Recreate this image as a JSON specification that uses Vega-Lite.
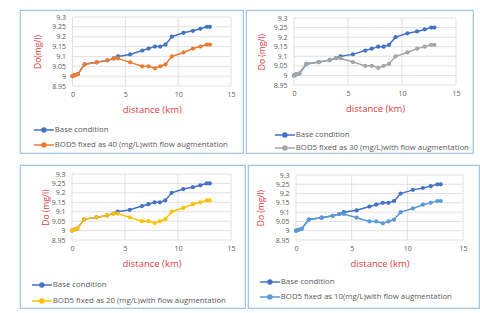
{
  "$schema": "https://vega.github.io/schema/vega-lite/v6.json",
  "background": "white",
  "padding": {"left": 19, "top": 9, "right": 0, "bottom": 0},
  "config": {
    "font": "Open Sans",
    "view": {"stroke": "#9DC3E6", "strokeWidth": 1.2},
    "axis": {"grid": false, "domain": false, "ticks": false, "labelColor": "#595959", "labelFontSize": 7, "titleColor": "#E0403F", "titleFontWeight": "normal", "labelFont": "Open Sans", "titleFont": "Open Sans", "labelOverlap": false},
    "axisX": {"labelPadding": 4, "titleFontSize": 9.5, "titleBaseline": "middle", "titleY": 23, "labelFlush": false, "tickCount": 10},
    "axisY": {"labelPadding": 7, "titleFontSize": 8.5, "titleBaseline": "middle", "labelOverlap": false, "labelBaseline": "middle", "tickCount": 10},
    "legend": {"orient": "none", "padding": 0, "rowPadding": 4, "labelFontSize": 7.8, "labelColor": "#595959", "labelLimit": 300, "labelOffset": 7, "symbolSize": 16, "symbolStrokeWidth": 1.5, "symbolType": "M-5,0H-1A1,1 0 1,1 1,0A1,1 0 1,1 -1,0M1,0H5", "title": null, "labelFont": "Open Sans"}
  },
  "datasets": {
    "dat": [
      {"d": 0, "v": 9.0, "s": "Base condition"},
      {"d": 0.2, "v": 9.005, "s": "Base condition"},
      {"d": 0.5, "v": 9.01, "s": "Base condition"},
      {"d": 1.15, "v": 9.06, "s": "Base condition"},
      {"d": 2.3, "v": 9.07, "s": "Base condition"},
      {"d": 3.3, "v": 9.08, "s": "Base condition"},
      {"d": 3.9, "v": 9.09, "s": "Base condition"},
      {"d": 4.3, "v": 9.1, "s": "Base condition"},
      {"d": 5.45, "v": 9.11, "s": "Base condition"},
      {"d": 6.6, "v": 9.13, "s": "Base condition"},
      {"d": 7.2, "v": 9.14, "s": "Base condition"},
      {"d": 7.8, "v": 9.15, "s": "Base condition"},
      {"d": 8.3, "v": 9.15, "s": "Base condition"},
      {"d": 8.8, "v": 9.16, "s": "Base condition"},
      {"d": 9.4, "v": 9.2, "s": "Base condition"},
      {"d": 10.5, "v": 9.22, "s": "Base condition"},
      {"d": 11.4, "v": 9.23, "s": "Base condition"},
      {"d": 12.1, "v": 9.24, "s": "Base condition"},
      {"d": 12.7, "v": 9.25, "s": "Base condition"},
      {"d": 13.0, "v": 9.25, "s": "Base condition"},
      {"d": 0, "v": 9.0, "s": "BOD5"},
      {"d": 0.2, "v": 9.005, "s": "BOD5"},
      {"d": 0.5, "v": 9.01, "s": "BOD5"},
      {"d": 1.15, "v": 9.06, "s": "BOD5"},
      {"d": 2.3, "v": 9.07, "s": "BOD5"},
      {"d": 3.3, "v": 9.08, "s": "BOD5"},
      {"d": 3.9, "v": 9.09, "s": "BOD5"},
      {"d": 4.3, "v": 9.09, "s": "BOD5"},
      {"d": 5.45, "v": 9.07, "s": "BOD5"},
      {"d": 6.6, "v": 9.05, "s": "BOD5"},
      {"d": 7.2, "v": 9.05, "s": "BOD5"},
      {"d": 7.8, "v": 9.04, "s": "BOD5"},
      {"d": 8.3, "v": 9.05, "s": "BOD5"},
      {"d": 8.8, "v": 9.06, "s": "BOD5"},
      {"d": 9.4, "v": 9.1, "s": "BOD5"},
      {"d": 10.5, "v": 9.12, "s": "BOD5"},
      {"d": 11.4, "v": 9.14, "s": "BOD5"},
      {"d": 12.1, "v": 9.15, "s": "BOD5"},
      {"d": 12.7, "v": 9.16, "s": "BOD5"},
      {"d": 13.0, "v": 9.16, "s": "BOD5"}
    ],
    "vgrid": [{"d": 0}, {"d": 5}, {"d": 10}, {"d": 15}],
    "hgrid": [{"v": 8.95}, {"v": 9.0}, {"v": 9.05}, {"v": 9.1}, {"v": 9.15}, {"v": 9.2}, {"v": 9.25}, {"v": 9.3}]
  },
  "resolve": {"scale": {"x": "independent", "y": "independent", "color": "independent"}, "axis": {"x": "independent", "y": "independent"}, "legend": {"color": "independent"}},
  "spacing": 10,
  "vconcat": [
    {
      "spacing": 1,
      "resolve": {"scale": {"x": "independent", "y": "independent", "color": "independent"}, "axis": {"x": "independent", "y": "independent"}, "legend": {"color": "independent"}},
      "hconcat": [
        {
          "width": 223, "height": 143,
          "layer": [
            {"data": {"name": "vgrid"}, "mark": {"type": "rule", "color": "#D9D9D9", "strokeWidth": 0.8}, "encoding": {"x": {"field": "d", "type": "quantitative"}, "y": {"datum": 8.95}, "y2": {"datum": 9.3}}},
            {"data": {"name": "hgrid"}, "mark": {"type": "rule", "color": "#D9D9D9", "strokeWidth": 0.8}, "encoding": {"y": {"field": "v", "type": "quantitative"}, "x": {"datum": 0}, "x2": {"datum": 15}}},
            {"data": {"name": "dat"}, "mark": {"type": "line", "strokeWidth": 1.5, "point": {"filled": true, "size": 18}},
             "encoding": {
               "x": {"field": "d", "type": "quantitative", "scale": {"domain": [0, 15], "range": [52.5, 211], "zero": false, "nice": false}, "axis": {"values": [0, 5, 10, 15], "tickCount": 10, "format": "d", "offset": -67, "title": "distance (km)"}},
               "y": {"field": "v", "type": "quantitative", "scale": {"domain": [8.95, 9.3], "range": [76, 7], "zero": false, "nice": false}, "axis": {"values": [8.95, 9, 9.05, 9.1, 9.15, 9.2, 9.25, 9.3], "tickCount": 10, "format": ".2~f", "labelOverlap": false, "offset": -52.5, "title": "Do(mg/l)", "titleX": -35}},
               "color": {"field": "s", "type": "nominal", "scale": {"domain": ["Base condition", "BOD5"], "range": ["#4472C4", "#ED7D31"]},
                 "legend": {"legendX": 20, "legendY": 116, "rowPadding": 4, "labelExpr": "datum.label == 'BOD5' ? 'BOD5 fixed as 40 (mg/L)with flow augmentation' : datum.label"}}
             }}
          ]
        },
        {
          "width": 227, "height": 143,
          "layer": [
            {"data": {"name": "vgrid"}, "mark": {"type": "rule", "color": "#D9D9D9", "strokeWidth": 0.8}, "encoding": {"x": {"field": "d", "type": "quantitative"}, "y": {"datum": 8.95}, "y2": {"datum": 9.3}}},
            {"data": {"name": "hgrid"}, "mark": {"type": "rule", "color": "#D9D9D9", "strokeWidth": 0.8}, "encoding": {"y": {"field": "v", "type": "quantitative"}, "x": {"datum": 0}, "x2": {"datum": 15}}},
            {"data": {"name": "dat"}, "mark": {"type": "line", "strokeWidth": 1.5, "point": {"filled": true, "size": 18}},
             "encoding": {
               "x": {"field": "d", "type": "quantitative", "scale": {"domain": [0, 15], "range": [48, 210], "zero": false, "nice": false}, "axis": {"values": [0, 5, 10, 15], "tickCount": 10, "format": "d", "offset": -68, "title": "distance (km)"}},
               "y": {"field": "v", "type": "quantitative", "scale": {"domain": [8.95, 9.3], "range": [75, 8], "zero": false, "nice": false}, "axis": {"values": [8.95, 9, 9.05, 9.1, 9.15, 9.2, 9.25, 9.3], "tickCount": 10, "format": ".2~f", "labelOverlap": false, "offset": -48, "title": "Do (mg/l)", "titleX": -33}},
               "color": {"field": "s", "type": "nominal", "scale": {"domain": ["Base condition", "BOD5"], "range": ["#4472C4", "#A5A5A5"]},
                 "legend": {"legendX": 35, "legendY": 121, "rowPadding": 2, "labelExpr": "datum.label == 'BOD5' ? 'BOD5 fixed as 30 (mg/L)with flow augmentation' : datum.label"}}
             }}
          ]
        }
      ]
    },
    {
      "spacing": 1,
      "resolve": {"scale": {"x": "independent", "y": "independent", "color": "independent"}, "axis": {"x": "independent", "y": "independent"}, "legend": {"color": "independent"}},
      "hconcat": [
        {
          "width": 225, "height": 143,
          "layer": [
            {"data": {"name": "vgrid"}, "mark": {"type": "rule", "color": "#D9D9D9", "strokeWidth": 0.8}, "encoding": {"x": {"field": "d", "type": "quantitative"}, "y": {"datum": 8.95}, "y2": {"datum": 9.3}}},
            {"data": {"name": "hgrid"}, "mark": {"type": "rule", "color": "#D9D9D9", "strokeWidth": 0.8}, "encoding": {"y": {"field": "v", "type": "quantitative"}, "x": {"datum": 0}, "x2": {"datum": 15}}},
            {"data": {"name": "dat"}, "mark": {"type": "line", "strokeWidth": 1.5, "point": {"filled": true, "size": 18}},
             "encoding": {
               "x": {"field": "d", "type": "quantitative", "scale": {"domain": [0, 15], "range": [52, 211], "zero": false, "nice": false}, "axis": {"values": [0, 5, 10, 15], "tickCount": 10, "format": "d", "offset": -68, "title": "distance (km)"}},
               "y": {"field": "v", "type": "quantitative", "scale": {"domain": [8.95, 9.3], "range": [75, 9], "zero": false, "nice": false}, "axis": {"values": [8.95, 9, 9.05, 9.1, 9.15, 9.2, 9.25, 9.3], "tickCount": 10, "format": ".2~f", "labelOverlap": false, "offset": -52, "title": "Do (mg/l)", "titleX": -27}},
               "color": {"field": "s", "type": "nominal", "scale": {"domain": ["Base condition", "BOD5"], "range": ["#4472C4", "#FFC000"]},
                 "legend": {"legendX": 18, "legendY": 116, "rowPadding": 5, "labelExpr": "datum.label == 'BOD5' ? 'BOD5 fixed as 20 (mg/L)with flow augmentation' : datum.label"}}
             }}
          ]
        },
        {
          "width": 231, "height": 143,
          "layer": [
            {"data": {"name": "vgrid"}, "mark": {"type": "rule", "color": "#D9D9D9", "strokeWidth": 0.8}, "encoding": {"x": {"field": "d", "type": "quantitative"}, "y": {"datum": 8.95}, "y2": {"datum": 9.3}}},
            {"data": {"name": "hgrid"}, "mark": {"type": "rule", "color": "#D9D9D9", "strokeWidth": 0.8}, "encoding": {"y": {"field": "v", "type": "quantitative"}, "x": {"datum": 0}, "x2": {"datum": 15}}},
            {"data": {"name": "dat"}, "mark": {"type": "line", "strokeWidth": 1.5, "point": {"filled": true, "size": 18}},
             "encoding": {
               "x": {"field": "d", "type": "quantitative", "scale": {"domain": [0, 15], "range": [48, 215], "zero": false, "nice": false}, "axis": {"values": [0, 5, 10, 15], "tickCount": 10, "format": "d", "offset": -68, "title": "distance (km)"}},
               "y": {"field": "v", "type": "quantitative", "scale": {"domain": [8.95, 9.3], "range": [75, 10], "zero": false, "nice": false}, "axis": {"values": [8.95, 9, 9.05, 9.1, 9.15, 9.2, 9.25, 9.3], "tickCount": 10, "format": ".2~f", "labelOverlap": false, "offset": -48, "title": "Do (mg/l)", "titleX": -36}},
               "color": {"field": "s", "type": "nominal", "scale": {"domain": ["Base condition", "BOD5"], "range": ["#4472C4", "#5B9BD5"]},
                 "legend": {"legendX": 18, "legendY": 113, "rowPadding": 4, "labelExpr": "datum.label == 'BOD5' ? 'BOD5 fixed as 10(mg/L)with flow augmentation' : datum.label"}}
             }}
          ]
        }
      ]
    }
  ]
}
